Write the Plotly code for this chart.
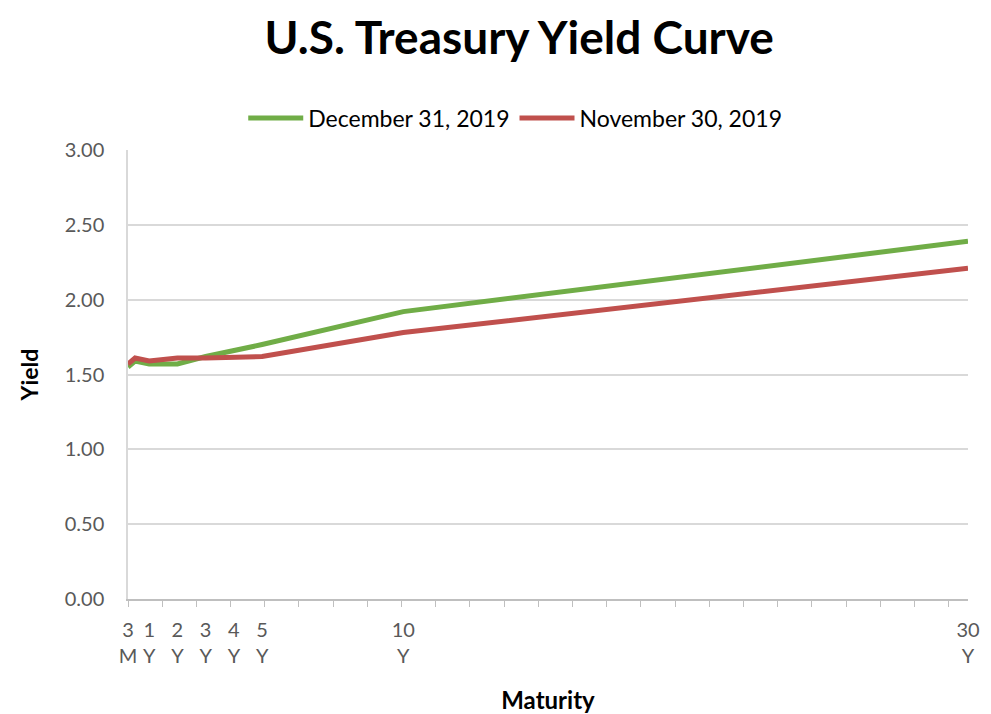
import plotly.graph_objects as go

# Data
maturity_years = [0.25, 0.5, 1, 2, 3, 5, 10, 30]
dec_2019 = [1.55, 1.59, 1.57, 1.57, 1.62, 1.70, 1.92, 2.39]
nov_2019 = [1.57, 1.61, 1.59, 1.61, 1.61, 1.62, 1.78, 2.21]
series_names = ["December 31, 2019", "November 30, 2019"]
series_colors = ["#70AD47", "#C0504D"]

tick_positions = [0.25, 1, 2, 3, 4, 5, 10, 30]
tick_labels = ["3<br>M", "1<br>Y", "2<br>Y", "3<br>Y", "4<br>Y", "5<br>Y", "10<br>Y", "30<br>Y"]
y_ticks = [0, 0.5, 1.0, 1.5, 2.0, 2.5, 3.0]

fig = go.Figure()
for name, vals, col in zip(series_names, [dec_2019, nov_2019], series_colors):
    fig.add_trace(go.Scatter(x=maturity_years, y=vals, mode="lines", name=name,
                             line=dict(color=col, width=5)))

fig.update_layout(
    width=983, height=706,
    margin=dict(l=120, r=23, t=142, b=115, autoexpand=False),
    paper_bgcolor="white", plot_bgcolor="white",
    font=dict(family="Lato, Open Sans, sans-serif", color="#595959", size=20),
    title=dict(text="<b>U.S. Treasury Yield Curve</b>", x=0.52, xanchor="center",
               y=0.958, yanchor="middle",
               font=dict(size=46, color="black", family="Lato, sans-serif")),
    legend=dict(orientation="h", x=0.461, xanchor="center", y=1.071, yanchor="middle",
                font=dict(size=23, color="black"), itemwidth=55, tracegroupgap=0),
    xaxis=dict(range=[0.25, 30], tickmode="array", tickvals=tick_positions, ticktext=tick_labels,
               automargin=False,
               ticks="outside", ticklen=12, tickcolor="rgba(0,0,0,0)",
               showgrid=False, zeroline=False, showline=True, linecolor="#BFBFBF", linewidth=1.5,
               minor=dict(ticks="outside", ticklen=6, tickcolor="#BFBFBF", tickwidth=1,
                          tickmode="linear", tick0=0.25, dtick=1.211, showgrid=False),
               title=dict(text="<b>Maturity</b>", font=dict(size=24, color="black"), standoff=26)),
    yaxis=dict(range=[0, 3], tickvals=y_ticks, tickformat=".2f", automargin=False,
               ticks="outside", ticklen=18, tickcolor="rgba(0,0,0,0)",
               showgrid=True, gridcolor="#D9D9D9", gridwidth=1.5, zeroline=False,
               showline=True, linecolor="#D9D9D9", linewidth=1.5,
               title=dict(text="<b>Yield</b>", font=dict(size=23, color="black"), standoff=20)),
)

fig.write_html("out.html")
